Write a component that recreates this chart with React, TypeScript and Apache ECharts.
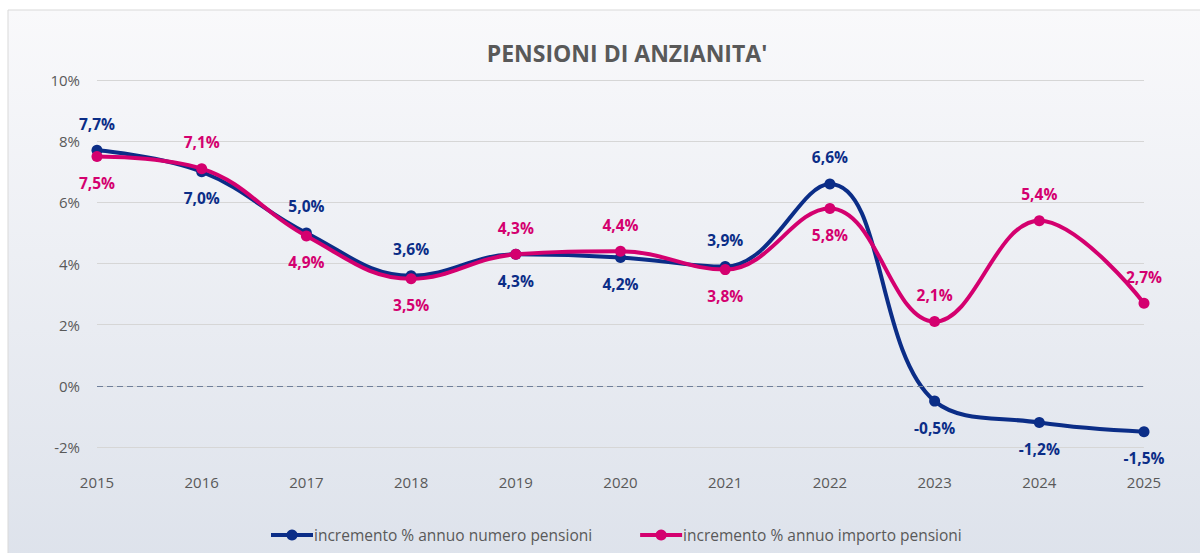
import React, { useEffect, useRef } from "react";
import * as echarts from "echarts";

const years = ["2015", "2016", "2017", "2018", "2019", "2020", "2021", "2022", "2023", "2024", "2025"];
const numeroPensioni = [7.7, 7.0, 5.0, 3.6, 4.3, 4.2, 3.9, 6.6, -0.5, -1.2, -1.5];
const importoPensioni = [7.5, 7.1, 4.9, 3.5, 4.3, 4.4, 3.8, 5.8, 2.1, 5.4, 2.7];
const numeroLabelPos = ["top", "bottom", "top", "top", "bottom", "bottom", "top", "top", "bottom", "bottom", "bottom"];
const importoLabelPos = ["bottom", "top", "bottom", "bottom", "top", "top", "bottom", "bottom", "top", "top", "top"];

const BLUE = "#0b2d87";
const PINK = "#d4006f";

const fmt = (v: number) => v.toFixed(1).replace(".", ",") + "%";

export default function App() {
  const ref = useRef<HTMLDivElement>(null);
  useEffect(() => {
    const chart = echarts.init(ref.current!, undefined, { renderer: "svg" });
    const mkData = (vals: number[], pos: string[]) =>
      vals.map((v, i) => ({ value: v, label: { position: pos[i] } }));
    const labelCfg = (color: string) => ({
      show: true,
      distance: 13,
      formatter: (p: any) => fmt(p.value),
      fontFamily: "Open Sans",
      fontSize: 15.5,
      fontWeight: "bold",
      color,
    });
    chart.setOption({
      animation: false,
      backgroundColor: "#ffffff",
      graphic: [
        {
          type: "rect",
          z: -10,
          silent: true,
          shape: { x: 8, y: 10, width: 1200, height: 560 },
          style: {
            fill: new echarts.graphic.LinearGradient(0, 0, 0, 1, [
              { offset: 0, color: "#f9f9fb" },
              { offset: 1, color: "#dde2eb" },
            ]),
            stroke: "#d9d9d9",
            lineWidth: 1,
          },
        },
      ],
      title: {
        text: "PENSIONI DI ANZIANITA'",
        left: 622,
        top: 36,
        textAlign: "center",
        textStyle: { fontFamily: "Open Sans", fontSize: 23, fontWeight: "bold", color: "#595959" },
      },
      legend: {
        top: 522,
        left: 264,
        itemGap: 46,
        itemWidth: 42,
        itemHeight: 14,
        lineStyle: { width: 4 },
        textStyle: { fontFamily: "Open Sans", fontSize: 15.5, color: "#595959", padding: [0, 0, 0, -4] },
        data: ["incremento % annuo numero pensioni", "incremento % annuo importo pensioni"],
      },
      grid: { left: 97, right: 56, top: 80, bottom: 106 },
      xAxis: {
        type: "category",
        data: years,
        boundaryGap: false,
        axisLine: { show: false },
        axisTick: { show: false },
        axisLabel: { margin: 27, fontFamily: "Open Sans", fontSize: 15, color: "#595959" },
      },
      yAxis: {
        type: "value",
        min: -2,
        max: 10,
        interval: 2,
        axisLine: { show: false },
        axisTick: { show: false },
        splitLine: { lineStyle: { color: "#d6d6d6", width: 1 } },
        axisLabel: {
          margin: 17,
          fontFamily: "Open Sans",
          fontSize: 15,
          color: "#595959",
          formatter: (v: number) => v + "%",
        },
      },
      series: [
        {
          name: "incremento % annuo numero pensioni",
          type: "line",
          smooth: 0.4,
          data: mkData(numeroPensioni, numeroLabelPos),
          color: BLUE,
          lineStyle: { width: 4, color: BLUE },
          symbol: "circle",
          symbolSize: 11,
          itemStyle: { color: BLUE },
          label: labelCfg(BLUE),
          markLine: {
            silent: true,
            symbol: "none",
            label: { show: false },
            lineStyle: { type: [6, 4], color: "#6f7f9b", width: 1.2 },
            data: [{ yAxis: 0 }],
          },
          z: 2,
        },
        {
          name: "incremento % annuo importo pensioni",
          type: "line",
          smooth: 0.4,
          data: mkData(importoPensioni, importoLabelPos),
          color: PINK,
          lineStyle: { width: 4, color: PINK },
          symbol: "circle",
          symbolSize: 11,
          itemStyle: { color: PINK },
          label: labelCfg(PINK),
          z: 3,
        },
      ],
    });
    return () => chart.dispose();
  }, []);
  return (
    <div
      ref={ref}
      style={{ position: "fixed", left: 0, top: 0, width: 1200, height: 553 }}
    />
  );
}
